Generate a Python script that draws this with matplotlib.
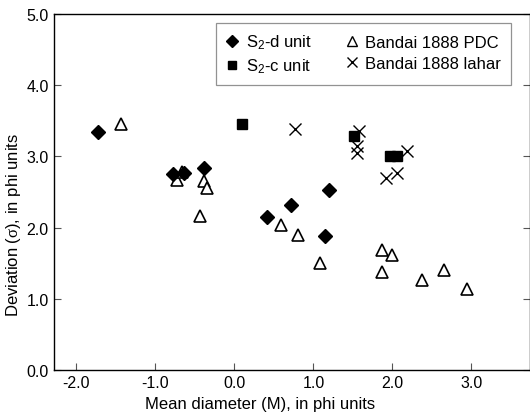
import matplotlib
matplotlib.use("Agg")
import matplotlib.pyplot as plt
from matplotlib.lines import Line2D

plt.rcParams["font.family"] = ["Liberation Sans", "DejaVu Sans"]
plt.rcParams["mathtext.fontset"] = "custom"
plt.rcParams["mathtext.rm"] = "Liberation Sans"
plt.rcParams["mathtext.it"] = "Liberation Serif"

# S2-d unit (filled diamonds)
s2d_x = [-1.73, -0.77, -0.64, -0.38, 0.41, 0.72, 1.20, 1.15]
s2d_y = [3.34, 2.75, 2.77, 2.84, 2.15, 2.31, 2.52, 1.88]

# S2-c unit (filled squares)
s2c_x = [0.10, 1.52, 1.97, 2.06]
s2c_y = [3.45, 3.28, 3.00, 3.00]

# Bandai 1888 PDC (open triangles)
pdc_x = [-1.43, -0.72, -0.66, -0.38, -0.34, -0.43, 0.59, 0.81, 1.08,
         1.87, 2.00, 1.87, 2.38, 2.65, 2.94]
pdc_y = [3.46, 2.67, 2.78, 2.65, 2.55, 2.16, 2.04, 1.89, 1.50,
         1.69, 1.62, 1.37, 1.27, 1.41, 1.14]

# Bandai 1888 lahar (crosses)
lahar_x = [0.77, 1.58, 1.55, 1.55, 2.18, 1.92, 2.06]
lahar_y = [3.38, 3.35, 3.14, 3.04, 3.08, 2.70, 2.76]

x_ticks = [-2.0, -1.0, 0.0, 1.0, 2.0, 3.0]
y_ticks = [0.0, 1.0, 2.0, 3.0, 4.0, 5.0]

fig = plt.figure(figsize=(5.3, 4.14), dpi=100)
ax = fig.add_axes([0.102, 0.104, 0.898, 0.860])

ax.plot(pdc_x, pdc_y, linestyle="none", marker="^", markersize=8,
        markerfacecolor="white", markeredgecolor="black", markeredgewidth=1.2)
ax.plot(s2d_x, s2d_y, linestyle="none", marker="D", markersize=6.8,
        color="black")
ax.plot(s2c_x, s2c_y, linestyle="none", marker="s", markersize=7,
        color="black")
ax.plot(lahar_x, lahar_y, linestyle="none", marker="x", markersize=8,
        color="black", markeredgewidth=1.0)

ax.set_xlim(-2.28, 3.74)
ax.set_ylim(0, 5)
ax.set_xticks(x_ticks)
ax.set_yticks(y_ticks)
ax.set_xticklabels([f"{v:.1f}" for v in x_ticks])
ax.set_yticklabels([f"{v:.1f}" for v in y_ticks])
ax.tick_params(direction="in", length=5, width=0.8, labelsize=11.5,
               right=True, color="#555555", pad=4)
for side in ["left", "bottom", "top", "right"]:
    ax.spines[side].set_linewidth(1.0)

ax.set_xlabel("Mean diameter (M), in phi units", fontsize=12)
ax.set_ylabel(r"Deviation ($\sigma$), in phi units", fontsize=12)
ax.xaxis.set_label_coords(0.433, -0.073)
ax.yaxis.set_label_coords(-0.066, 0.41)

handles = [
    Line2D([], [], linestyle="none", marker="D", markersize=6, color="black"),
    Line2D([], [], linestyle="none", marker="s", markersize=6, color="black"),
    Line2D([], [], linestyle="none", marker="^", markersize=6.5,
           markerfacecolor="white", markeredgecolor="black", markeredgewidth=1.0),
    Line2D([], [], linestyle="none", marker="x", markersize=7.5, color="black"),
]
labels = [r"S$_\mathregular{2}$-d unit", r"S$_\mathregular{2}$-c unit",
          "Bandai 1888 PDC", "Bandai 1888 lahar"]
leg = ax.legend(handles, labels, ncol=2, loc="upper right",
                bbox_to_anchor=(0.960, 0.975), borderaxespad=0,
                fontsize=12, frameon=True,
                fancybox=False, edgecolor="#777777", handlelength=0.8,
                handletextpad=0.4, columnspacing=2.0, borderpad=0.6,
                labelspacing=0.35)
leg.get_frame().set_linewidth(0.9)

fig.savefig("out.png", dpi=100)
